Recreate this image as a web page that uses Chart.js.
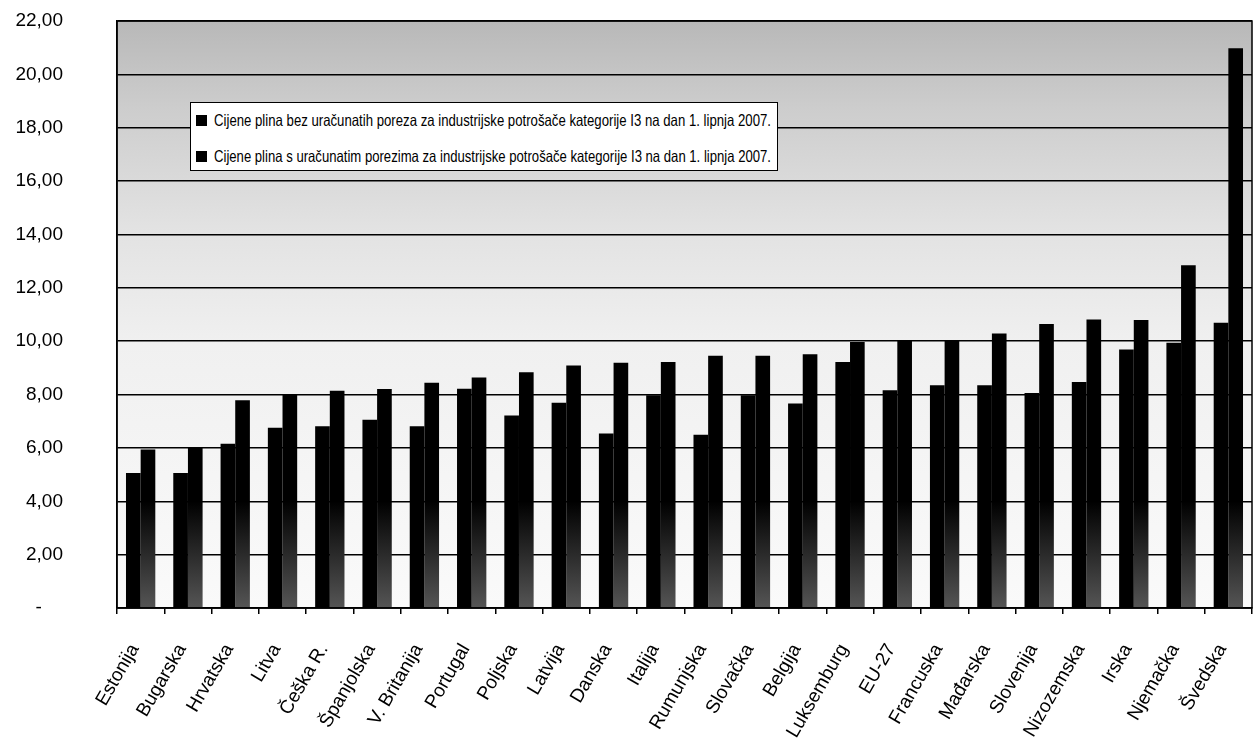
<!DOCTYPE html>
<html>
<head>
<meta charset="utf-8">
<script src="https://cdn.jsdelivr.net/npm/chart.js@4"></script>
<style>
  html,body{margin:0;padding:0;background:#fff;}
  #wrap{position:relative;width:1253px;height:749px;}
  #legend{position:absolute;left:190px;top:102px;width:588px;height:69px;border:1.5px solid #000;background:#fff;box-sizing:border-box;font-family:"Liberation Sans",Arial,sans-serif;font-size:16.5px;color:#000;}
  .li{position:absolute;left:5px;height:20px;line-height:20px;white-space:nowrap;}
  .li .m{display:inline-block;width:11px;height:11px;background:#000;vertical-align:middle;margin-right:7px;position:relative;top:-1px;}
  .li .t{display:inline-block;transform-origin:0 50%;}
</style>
</head>
<body>
<div id="wrap">
  <canvas id="c" width="1253" height="749"></canvas>
  <div id="legend"></div>
</div>
<script>
const categories = ['Estonija','Bugarska','Hrvatska','Litva','Češka R.','Španjolska','V. Britanija','Portugal','Poljska','Latvija','Danska','Italija','Rumunjska','Slovačka','Belgija','Luksemburg','EU-27','Francuska','Mađarska','Slovenija','Nizozemska','Irska','Njemačka','Švedska'];
const seriesBezPoreza = [5.06,5.06,6.16,6.76,6.81,7.06,6.81,8.22,7.21,7.69,6.54,7.97,6.49,7.97,7.66,9.22,8.16,8.35,8.35,8.06,8.47,9.69,9.94,10.69];
const seriesSPorezima = [5.94,6.00,7.79,8.01,8.14,8.21,8.44,8.64,8.84,9.09,9.19,9.22,9.45,9.45,9.51,9.97,10.04,10.04,10.29,10.64,10.81,10.79,12.85,20.98];
const seriesLabels = [
  'Cijene plina bez uračunatih poreza za industrijske potrošače kategorije I3 na dan 1. lipnja 2007.',
  'Cijene plina s uračunatim porezima za industrijske potrošače kategorije I3 na dan 1. lipnja 2007.'
];
const yMin = 0, yMax = 22, yStep = 2;

const FONT = '"Liberation Sans", Arial, sans-serif';

const plotBg = {
  id: 'plotBg',
  beforeDraw(chart) {
    const {ctx, chartArea: a} = chart;
    const g = ctx.createLinearGradient(0, a.top, 0, a.bottom);
    g.addColorStop(0, '#b8b8b8');
    g.addColorStop(0.15, '#cdcdcd');
    g.addColorStop(0.35, '#e2e2e2');
    g.addColorStop(0.55, '#f0f0f0');
    g.addColorStop(1, '#fafafa');
    ctx.save();
    ctx.fillStyle = g;
    ctx.fillRect(a.left, a.top, a.right - a.left, a.bottom - a.top);
    ctx.restore();
  },
  afterDraw(chart) {
    const {ctx, chartArea: a} = chart;
    ctx.save();
    ctx.strokeStyle = '#000';
    ctx.lineWidth = 1.5;
    ctx.strokeRect(a.left, a.top, a.right - a.left, a.bottom - a.top);
    ctx.restore();
  }
};

function s2Fill(context) {
  const chart = context.chart;
  const a = chart.chartArea;
  if (!a) return '#000';
  const y = chart.scales.y;
  const g = chart.ctx.createLinearGradient(0, y.getPixelForValue(4), 0, a.bottom);
  g.addColorStop(0, '#000');
  g.addColorStop(1, '#555');
  return g;
}

new Chart(document.getElementById('c'), {
  type: 'bar',
  data: {
    labels: categories,
    datasets: [
      {label: seriesLabels[0], data: seriesBezPoreza, backgroundColor: '#000', barPercentage: 1.0, categoryPercentage: 0.62},
      {label: seriesLabels[1], data: seriesSPorezima, backgroundColor: s2Fill, barPercentage: 1.0, categoryPercentage: 0.62}
    ]
  },
  options: {
    responsive: false,
    animation: false,
    layout: {padding: {top: 21, right: 1, left: 0, bottom: 0}},
    plugins: {legend: {display: false}, tooltip: {enabled: false}},
    scales: {
      x: {
        grid: {display: true, drawOnChartArea: false, drawTicks: true, tickLength: 6, color: '#000', lineWidth: 1.5, offset: true},
        border: {display: true, color: '#000', width: 1.5},
        ticks: {color: '#000', font: {family: FONT, size: 19}, minRotation: 60, maxRotation: 60, autoSkip: false, padding: 26, labelOffset: -6},
        afterFit(scale) { scale.height = 141; scale.paddingLeft = 0; scale.paddingRight = 0; }
      },
      y: {
        min: yMin, max: yMax,
        grid: {display: true, drawTicks: true, tickLength: 54, tickColor: 'rgba(0,0,0,0)', color: '#000', lineWidth: 1.5},
        border: {display: true, color: '#000', width: 1.5},
        ticks: {
          stepSize: yStep, color: '#000', padding: 0,
          font: {family: FONT, size: 19},
          callback: v => v === 0 ? '-    ' : v.toFixed(2).replace('.', ',')
        },
        afterFit(scale) { scale.width = 117; }
      }
    }
  },
  plugins: [plotBg]
});

// HTML legend built from dataset labels
const leg = document.getElementById('legend');
const tops = [7, 43];
seriesLabels.forEach((lab, i) => {
  const d = document.createElement('div');
  d.className = 'li';
  d.style.top = tops[i] + 'px';
  const m = document.createElement('span'); m.className = 'm';
  const t = document.createElement('span'); t.className = 't'; t.textContent = lab;
  d.appendChild(m); d.appendChild(t);
  leg.appendChild(d);
});
document.querySelectorAll('#legend .t').forEach((t) => {
  const w = t.getBoundingClientRect().width;
  t.style.transform = 'scaleX(' + (557 / w) + ')';
});
</script>
</body>
</html>
